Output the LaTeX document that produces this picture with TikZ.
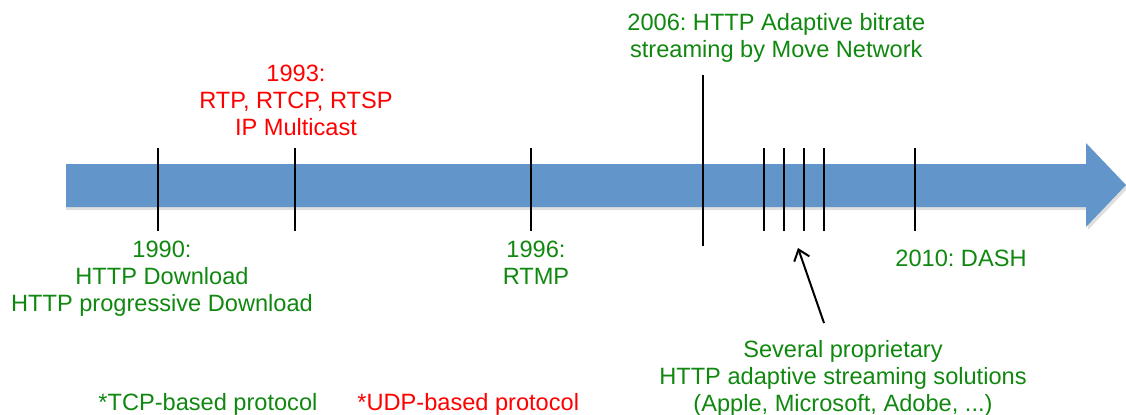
\documentclass[tikz,border=0pt]{standalone}
\usepackage{fontspec}
\setmainfont{Liberation Sans}
\usepackage{tikz}
\usetikzlibrary{calc,positioning,arrows.meta}
\definecolor{tlblue}{RGB}{98,149,201}
\definecolor{tlgreen}{RGB}{16,136,16}
\definecolor{tlred}{RGB}{255,0,0}
\frenchspacing

\begin{document}
\begin{tikzpicture}[x=0.5pt, y=-0.5pt, every node/.style={inner sep = 0pt, align = center, font=\fontsize{11.8}{13.5}\selectfont}, tcp/.style={text = tlgreen}, udp/.style={text = tlred}]
\useasboundingbox (0,0) rectangle (1126,414);
% timeline arrow
\fill[black!25, opacity=.5] (66,167) -- (1088,167) -- (1088,146) -- (1128,188) -- (1088,230) -- (1088,210) -- (66,210) -- cycle;
\fill[tlblue] (66,164) -- (1086,164) -- (1086,143) -- (1126,185) -- (1086,227) -- (1086,207) -- (66,207) -- cycle;
% ticks
\foreach \x in {158,295,531,764,784,804,824,915}{
 \coordinate (t\x a) at (\x,148);
 \coordinate (t\x b) at (\x,231);
 \draw[line width=1pt] (t\x a) -- (t\x b);}
\coordinate (t703a) at (703,75);
\coordinate (t703b) at (703,246);
\draw[line width=1pt] (t703a) -- (t703b);
% labels
\node[tcp, anchor=north west] (y2006) at (627,13) {2006: HTTP Adaptive bitrate\\streaming by Move Network};
\node[udp, anchor=north] (y1993) at (296,65) {1993:\\RTP, RTCP, RTSP\\IP Multicast};
\node[tcp, anchor=north] (y1990) at (162,241) {1990:\\HTTP Download\\HTTP progressive Download};
\node[tcp, anchor=north] (y1996) at (536,241) {1996:\\RTMP};
\node[tcp, anchor=north] (y2010) at (961,250) {2010: DASH};
\node[tcp, anchor=north] (sev) at (843,340) {Several proprietary\\HTTP adaptive streaming solutions\\(Apple, Microsoft, Adobe, ...)};
\node[tcp, anchor=north west] (ktcp) at (98,393) {*TCP-based protocol};
\node[udp, anchor=north west] (kudp) at (357,393) {*UDP-based protocol};
% pointer
\coordinate (ptail) at (824,323);
\coordinate (ptip) at (798,248);
\draw[line width=1pt, -{Straight Barb[length=5pt, width=8pt]}] (ptail) -- (ptip);
\end{tikzpicture}
\end{document}
